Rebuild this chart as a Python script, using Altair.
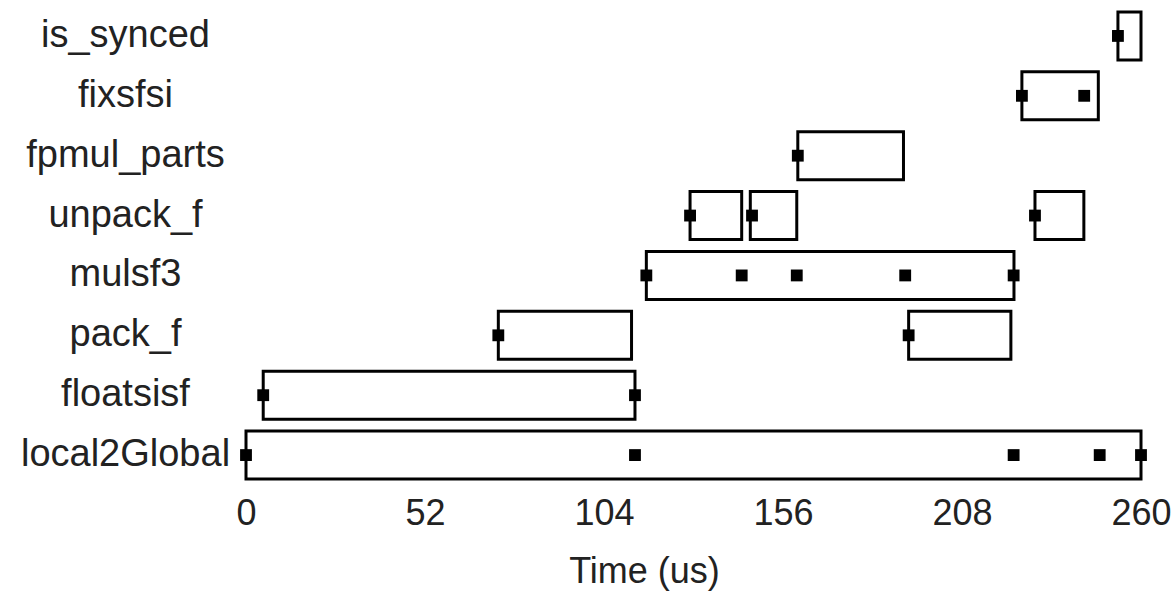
import altair as alt
import pandas as pd

order = ["is_synced", "fixsfsi", "fpmul_parts", "unpack_f", "mulsf3", "pack_f", "floatsisf", "local2Global"]

bar_func = ["local2Global", "floatsisf", "pack_f", "pack_f", "mulsf3", "unpack_f", "unpack_f", "unpack_f",
            "fpmul_parts", "fixsfsi", "is_synced"]
bar_start = [0, 5, 73.3, 192.5, 116.3, 129, 146.5, 229.2, 160.3, 225.4, 253.3]
bar_end = [260, 113, 112, 222.2, 223.1, 144, 160, 243.4, 191, 247.6, 260]

pt_func = ["local2Global"] * 5 + ["floatsisf"] * 2 + ["pack_f"] * 2 + ["mulsf3"] * 5 + ["unpack_f"] * 3 + \
          ["fpmul_parts"] + ["fixsfsi"] * 2 + ["is_synced"]
pt_time = [0, 113, 223, 248, 260,
           5, 113,
           73.3, 192.5,
           116.3, 144, 160, 191.5, 223,
           129, 147, 229.2,
           160.3,
           225.4, 243.5,
           253.3]

x_ticks = [0, 52, 104, 156, 208, 260]

bars = pd.DataFrame({"func": bar_func, "start": bar_start, "end": bar_end})
pts = pd.DataFrame({"func": pt_func, "time": pt_time})

FONT = "Liberation Sans"
FS = 36

xscale = alt.Scale(domain=[0, 260], nice=False, zero=False)
yscale = alt.Scale(domain=order, paddingInner=0.2, paddingOuter=0.1)

xaxis = alt.Axis(values=x_ticks, title="Time (us)", domain=False, ticks=False, tickSize=0, grid=False,
                 labelFlush=False, labelOverlap=False, labelPadding=11, titlePadding=23,
                 titleX=398, titleAnchor="middle",
                 labelFont=FONT, labelFontSize=FS, titleFont=FONT, titleFontSize=FS,
                 titleFontWeight="normal", labelColor="#222", titleColor="#222")
yaxis = alt.Axis(title=None, domain=False, ticks=False, tickSize=0, grid=False, labelLimit=0,
                 labelAlign="center", labelPadding=121, labelFont=FONT, labelFontSize=38,
                 labelColor="#222")

bar_layer = alt.Chart(bars).mark_bar(fill="white", stroke="black", strokeWidth=3).encode(
    x=alt.X("start:Q", scale=xscale, axis=xaxis),
    x2="end:Q",
    y=alt.Y("func:N", scale=yscale, axis=yaxis, sort=order),
)

pt_layer = alt.Chart(pts).mark_point(shape="square", filled=True, color="black", size=140, opacity=1).encode(
    x=alt.X("time:Q", scale=xscale),
    y=alt.Y("func:N", scale=yscale, sort=order),
)

chart = alt.layer(bar_layer, pt_layer).properties(
    width=895, height=479,
    autosize=alt.AutoSizeParams(type="none"),
    padding={"left": 246, "top": 6, "right": 30, "bottom": 108},
).configure_view(stroke=None)

chart.save("out.html", embed_options={"renderer": "svg", "actions": False})
